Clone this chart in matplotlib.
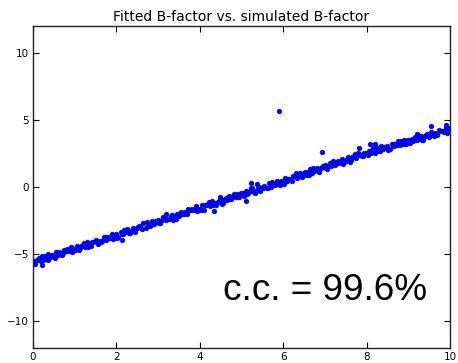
import matplotlib
matplotlib.use("Agg")
import matplotlib.pyplot as plt

# main band of points (simulated B-factor, fitted B-factor)
x_main = [0.00, 0.05, 0.10, 0.15, 0.20, 0.25, 0.30, 0.35, 0.40, 0.45,
          0.50, 0.55, 0.60, 0.65, 0.70, 0.75, 0.80, 0.85, 0.90, 0.95,
          1.00, 1.05, 1.10, 1.15, 1.20, 1.25, 1.30, 1.35, 1.40, 1.45,
          1.50, 1.55, 1.60, 1.65, 1.70, 1.75, 1.80, 1.85, 1.90, 1.95,
          2.00, 2.05, 2.10, 2.15, 2.20, 2.25, 2.30, 2.35, 2.40, 2.45,
          2.50, 2.55, 2.60, 2.65, 2.70, 2.75, 2.80, 2.85, 2.90, 2.95,
          3.00, 3.05, 3.10, 3.15, 3.20, 3.25, 3.30, 3.35, 3.40, 3.45,
          3.50, 3.55, 3.60, 3.65, 3.70, 3.75, 3.80, 3.85, 3.90, 3.95,
          4.00, 4.05, 4.10, 4.15, 4.20, 4.25, 4.30, 4.35, 4.40, 4.45,
          4.50, 4.55, 4.60, 4.65, 4.70, 4.75, 4.80, 4.85, 4.90, 4.95,
          5.00, 5.05, 5.10, 5.15, 5.20, 5.25, 5.30, 5.35, 5.40, 5.45,
          5.50, 5.55, 5.60, 5.65, 5.70, 5.75, 5.80, 5.85, 5.90, 5.95,
          6.00, 6.05, 6.10, 6.15, 6.20, 6.25, 6.30, 6.35, 6.40, 6.45,
          6.50, 6.55, 6.60, 6.65, 6.70, 6.75, 6.80, 6.85, 6.90, 6.95,
          7.00, 7.05, 7.10, 7.15, 7.20, 7.25, 7.30, 7.35, 7.40, 7.45,
          7.50, 7.55, 7.60, 7.65, 7.70, 7.75, 7.80, 7.85, 7.90, 7.95,
          8.00, 8.05, 8.10, 8.15, 8.20, 8.25, 8.30, 8.35, 8.40, 8.45,
          8.50, 8.55, 8.60, 8.65, 8.70, 8.75, 8.80, 8.85, 8.90, 8.95,
          9.00, 9.05, 9.10, 9.15, 9.20, 9.25, 9.30, 9.35, 9.40, 9.45,
          9.50, 9.55, 9.60, 9.65, 9.70, 9.75, 9.80, 9.85, 9.90, 9.95,
          10.00]
y_main = [-5.50, -5.70, -5.45, -5.25, -5.50, -5.40, -5.15, -5.45, -5.20, -5.03,
          -5.22, -4.87, -5.08, -4.92, -5.08, -4.72, -4.73, -4.78, -4.48, -4.79,
          -4.66, -4.39, -4.72, -4.41, -4.29, -4.44, -4.11, -4.26, -4.36, -4.07,
          -3.96, -4.25, -3.98, -4.02, -3.69, -3.97, -3.74, -3.79, -3.53, -3.76,
          -3.51, -3.73, -3.37, -3.47, -3.35, -3.14, -3.42, -3.30, -3.04, -3.33,
          -3.08, -2.93, -3.07, -2.69, -3.03, -2.79, -2.88, -2.55, -2.73, -2.55,
          -2.48, -2.67, -2.42, -2.22, -2.47, -2.37, -2.12, -2.42, -2.17, -1.99,
          -2.18, -1.83, -2.04, -1.88, -2.04, -1.68, -1.69, -1.73, -1.43, -1.74,
          -1.61, -1.34, -1.67, -1.36, -1.24, -1.39, -1.06, -1.21, -1.31, -1.02,
          -0.91, -1.20, -0.93, -0.97, -0.64, -0.92, -0.69, -0.74, -0.48, -0.71,
          -0.46, -0.68, -0.32, -0.42, -0.30, -0.10, -0.38, -0.26, 0.00, -0.29,
          -0.04, 0.11, -0.03, 0.34, 0.00, 0.24, 0.15, 0.48, 0.30, 0.48,
          0.33, 0.68, 0.48, 0.64, 0.48, 0.84, 0.84, 0.79, 1.09, 0.78,
          1.08, 0.88, 1.13, 1.33, 1.09, 1.19, 1.44, 1.14, 1.40, 1.57,
          1.64, 1.35, 1.63, 1.59, 1.92, 1.64, 1.88, 1.83, 2.09, 1.86,
          1.97, 2.24, 1.91, 2.22, 2.35, 2.20, 2.53, 2.38, 2.29, 2.58,
          2.56, 2.70, 2.56, 2.92, 2.58, 2.81, 2.71, 3.04, 2.85, 3.02,
          3.08, 2.85, 3.21, 3.10, 3.21, 3.41, 3.12, 3.23, 3.49, 3.19,
          3.53, 3.32, 3.56, 3.76, 3.50, 3.59, 3.84, 3.53, 3.78, 3.94,
          3.74, 4.09, 3.87, 4.02, 3.86, 4.21, 4.20, 4.14, 4.43, 4.12,
          4.40]

# further points in the band
x_fill = [0.025, 0.125, 0.225, 0.325, 0.425, 0.525, 0.625, 0.725, 0.825, 0.925,
          1.025, 1.125, 1.225, 1.325, 1.425, 1.525, 1.625, 1.725, 1.825, 1.925,
          2.025, 2.125, 2.225, 2.325, 2.425, 2.525, 2.625, 2.725, 2.825, 2.925,
          3.025, 3.125, 3.225, 3.325, 3.425, 3.525, 3.625, 3.725, 3.825, 3.925,
          4.025, 4.125, 4.225, 4.325, 4.425, 4.525, 4.625, 4.725, 4.825, 4.925,
          5.025, 5.125, 5.225, 5.325, 5.425, 5.525, 5.625, 5.725, 5.825, 5.925,
          6.025, 6.125, 6.225, 6.325, 6.425, 6.525, 6.625, 6.725, 6.825, 6.925,
          7.025, 7.125, 7.225, 7.325, 7.425, 7.525, 7.625, 7.725, 7.825, 7.925,
          8.025, 8.125, 8.225, 8.325, 8.425, 8.525, 8.625, 8.725, 8.825, 8.925,
          9.025, 9.125, 9.225, 9.325, 9.425, 9.525, 9.625, 9.725, 9.825, 9.925]
y_fill = [-5.75, -5.40, -5.17, -5.39, -5.16, -5.32, -4.84, -4.92, -4.59, -4.81,
          -4.52, -4.57, -4.15, -4.47, -4.06, -4.09, -4.12, -3.71, -3.78, -3.89,
          -3.78, -3.47, -3.20, -3.41, -3.17, -2.94, -3.15, -2.63, -2.84, -2.59,
          -2.68, -2.26, -2.38, -2.10, -2.38, -2.02, -2.04, -1.62, -1.65, -1.80,
          -1.70, -1.35, -1.12, -1.34, -1.11, -1.27, -0.79, -0.87, -0.54, -0.76,
          -0.47, -0.52, -0.10, -0.42, -0.01, -0.04, -0.07, 0.35, 0.28, 0.17,
          0.27, 0.58, 0.86, 0.65, 0.89, 1.12, 0.92, 1.44, 1.23, 1.48,
          1.40, 1.82, 1.70, 1.98, 1.71, 2.07, 2.05, 2.47, 2.45, 2.30,
          2.40, 2.74, 2.96, 2.72, 2.94, 2.77, 3.24, 3.14, 3.46, 3.23,
          3.51, 3.44, 3.85, 3.52, 3.92, 3.87, 3.83, 4.23, 4.15, 4.02]

# scattered points off the band
x_out = [5.90, 6.93, 7.81, 8.08, 8.20, 9.54, 9.90, 6.30, 3.19, 5.12,
         5.24, 5.38, 4.34, 4.48, 2.13, 2.19, 0.37, 0.21, 9.21]
y_out = [5.67, 2.60, 2.95, 3.19, 3.23, 4.57, 4.65, 1.07, -2.04, -1.06,
         0.32, 0.27, -1.77, -0.77, -3.96, -3.16, -4.95, -5.82, 3.93]

title = "Fitted B-factor vs. simulated B-factor"
annotation = "c.c. = 99.6%"
x_ticks = [0, 2, 4, 6, 8, 10]
y_ticks = [-10, -5, 0, 5, 10]

fig = plt.figure(figsize=(4.58, 3.63), dpi=100)
ax = fig.add_axes([0.072, 0.041, 0.9105, 0.887])

ax.plot(x_main + x_fill + x_out, y_main + y_fill + y_out, linestyle="none",
        marker="o", markersize=3.3, color="blue", markeredgecolor="blue",
        markeredgewidth=0.5)

ax.set_xlim(0, 10)
ax.set_ylim(-12, 12)
ax.set_xticks(x_ticks)
ax.set_yticks(y_ticks)
ax.set_yticklabels(["\u221210", "\u22125", "0", "5", "10"])
ax.tick_params(direction="in", top=True, right=True, length=4, width=0.8,
               labelsize=7.5, pad=3)
for s in ax.spines.values():
    s.set_linewidth(1.0)
    s.set_color("#222222")

ax.set_title(title, fontsize=10, pad=4)
ax.text(4.56, -8.4, annotation, fontsize=26.6, family=["Liberation Sans", "DejaVu Sans"],
        va="baseline", ha="left")

fig.savefig("out.png", dpi=100, facecolor="white")
